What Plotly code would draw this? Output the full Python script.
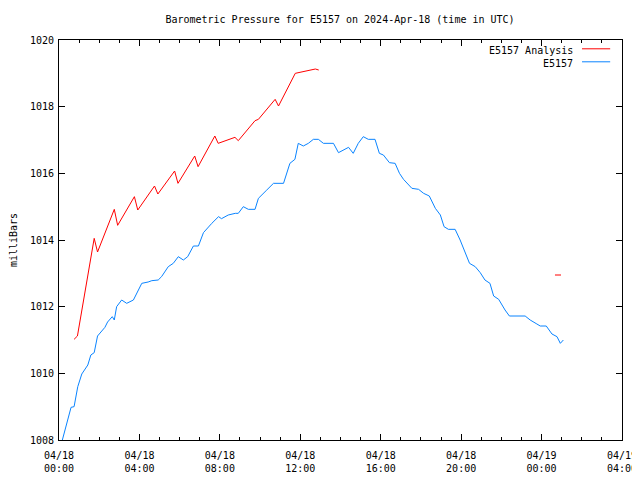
import plotly.graph_objects as go

# --- data ---
analysis_time = ["2024-04-18 00:45", "2024-04-18 00:55", "2024-04-18 01:45", "2024-04-18 01:55",
                 "2024-04-18 02:45", "2024-04-18 02:55", "2024-04-18 03:45", "2024-04-18 03:55",
                 "2024-04-18 04:45", "2024-04-18 04:55", "2024-04-18 05:45", "2024-04-18 05:55",
                 "2024-04-18 06:45", "2024-04-18 06:55", "2024-04-18 07:45", "2024-04-18 07:55",
                 "2024-04-18 08:45", "2024-04-18 08:55", "2024-04-18 09:45", "2024-04-18 09:55",
                 "2024-04-18 10:45", "2024-04-18 10:55", "2024-04-18 11:45", "2024-04-18 11:55",
                 "2024-04-18 12:15", "2024-04-18 12:30", "2024-04-18 12:45", "2024-04-18 12:55",
                 "2024-04-18 18:00",
                 "2024-04-19 00:40", "2024-04-19 00:58"]
analysis_mb = [1011.02, 1011.12, 1014.05, 1013.64,
               1014.92, 1014.44, 1015.30, 1014.90,
               1015.62, 1015.38, 1016.07, 1015.70,
               1016.52, 1016.20, 1017.12, 1016.90,
               1017.08, 1016.98, 1017.58, 1017.62,
               1018.22, 1018.02, 1019.00, 1019.02,
               1019.06, 1019.10, 1019.13, 1019.10,
               None,
               1012.95, 1012.95]

obs_time = ["2024-04-18 00:10", "2024-04-18 00:36", "2024-04-18 00:45", "2024-04-18 00:56",
            "2024-04-18 01:08", "2024-04-18 01:17", "2024-04-18 01:26", "2024-04-18 01:35",
            "2024-04-18 01:45", "2024-04-18 01:55", "2024-04-18 02:07", "2024-04-18 02:17",
            "2024-04-18 02:25", "2024-04-18 02:39", "2024-04-18 02:45", "2024-04-18 02:52",
            "2024-04-18 03:07", "2024-04-18 03:22", "2024-04-18 03:42", "2024-04-18 04:07",
            "2024-04-18 04:26", "2024-04-18 04:37", "2024-04-18 04:56", "2024-04-18 05:06",
            "2024-04-18 05:26", "2024-04-18 05:41", "2024-04-18 05:56", "2024-04-18 06:11",
            "2024-04-18 06:24", "2024-04-18 06:41", "2024-04-18 06:56", "2024-04-18 07:11",
            "2024-04-18 07:36", "2024-04-18 07:56", "2024-04-18 08:05", "2024-04-18 08:25",
            "2024-04-18 08:46", "2024-04-18 08:55", "2024-04-18 09:10", "2024-04-18 09:25",
            "2024-04-18 09:45", "2024-04-18 09:55", "2024-04-18 10:20", "2024-04-18 10:40",
            "2024-04-18 11:10", "2024-04-18 11:20", "2024-04-18 11:29", "2024-04-18 11:44",
            "2024-04-18 11:54", "2024-04-18 12:09", "2024-04-18 12:24", "2024-04-18 12:39",
            "2024-04-18 12:54", "2024-04-18 13:09", "2024-04-18 13:39", "2024-04-18 13:54",
            "2024-04-18 14:09", "2024-04-18 14:24", "2024-04-18 14:38", "2024-04-18 14:53",
            "2024-04-18 15:08", "2024-04-18 15:23", "2024-04-18 15:43", "2024-04-18 15:56",
            "2024-04-18 16:08", "2024-04-18 16:26", "2024-04-18 16:43", "2024-04-18 16:56",
            "2024-04-18 17:08", "2024-04-18 17:23", "2024-04-18 17:33", "2024-04-18 17:53",
            "2024-04-18 18:08", "2024-04-18 18:25", "2024-04-18 18:43", "2024-04-18 18:58",
            "2024-04-18 19:09", "2024-04-18 19:22", "2024-04-18 19:42", "2024-04-18 19:57",
            "2024-04-18 20:12", "2024-04-18 20:25", "2024-04-18 20:42", "2024-04-18 20:57",
            "2024-04-18 21:11", "2024-04-18 21:26", "2024-04-18 21:37", "2024-04-18 21:52",
            "2024-04-18 22:11", "2024-04-18 22:24", "2024-04-18 23:11", "2024-04-18 23:26",
            "2024-04-18 23:46", "2024-04-18 23:56", "2024-04-19 00:14", "2024-04-19 00:31",
            "2024-04-19 00:46", "2024-04-19 00:56", "2024-04-19 01:05"]
obs_mb = [1008.0, 1008.98, 1009.0, 1009.6,
          1009.98, 1010.1, 1010.25, 1010.55,
          1010.62, 1011.12, 1011.25, 1011.38,
          1011.54, 1011.7, 1011.6, 1012.0,
          1012.2, 1012.1, 1012.2, 1012.7,
          1012.74, 1012.78, 1012.8, 1012.9,
          1013.2, 1013.3, 1013.5, 1013.4,
          1013.5, 1013.82, 1013.82, 1014.22,
          1014.5, 1014.7, 1014.64, 1014.75,
          1014.8, 1014.8, 1015.0, 1014.92,
          1014.92, 1015.25, 1015.5, 1015.7,
          1015.7, 1016.05, 1016.3, 1016.42,
          1016.9, 1016.82, 1016.9, 1017.02,
          1017.02, 1016.9, 1016.9, 1016.62,
          1016.7, 1016.78, 1016.6, 1016.9,
          1017.1, 1017.02, 1017.02, 1016.6,
          1016.55, 1016.32, 1016.3, 1016.0,
          1015.82, 1015.65, 1015.55, 1015.52,
          1015.4, 1015.32, 1014.95, 1014.75,
          1014.4, 1014.32, 1014.32, 1014.0,
          1013.65, 1013.3, 1013.2, 1013.02,
          1012.8, 1012.7, 1012.32, 1012.22,
          1011.9, 1011.72, 1011.72, 1011.6,
          1011.48, 1011.42, 1011.42, 1011.18,
          1011.1, 1010.9, 1011.0]

x_tick_vals = ["2024-04-18 00:00", "2024-04-18 04:00", "2024-04-18 08:00", "2024-04-18 12:00",
               "2024-04-18 16:00", "2024-04-18 20:00", "2024-04-19 00:00", "2024-04-19 04:00"]
x_tick_text = ["04/18<br>00:00", "04/18<br>04:00", "04/18<br>08:00", "04/18<br>12:00",
               "04/18<br>16:00", "04/18<br>20:00", "04/19<br>00:00", "04/19<br>04:00"]
y_tick_vals = [1008, 1010, 1012, 1014, 1016, 1018, 1020]

RED = "#ff0000"
BLUE = "#0a84ff"
FONT = "DejaVu Sans Mono"

# page body has an 8px margin; size the figure so the plot area lands where the reference has it
W, H = 640, 472

fig = go.Figure()
fig.add_trace(go.Scatter(x=analysis_time, y=analysis_mb, mode="lines", name="E5157 Analysis",
                         line=dict(color=RED, width=1), connectgaps=False, showlegend=False))
fig.add_trace(go.Scatter(x=obs_time, y=obs_mb, mode="lines", name="E5157",
                         line=dict(color=BLUE, width=1), showlegend=False))

# legend in gnuplot style (text left of sample)
legend_items = [("E5157 Analysis", RED, 0.975), ("E5157", BLUE, 0.9425)]
for label, col, yp in legend_items:
    fig.add_annotation(x=0.916, y=yp, xref="paper", yref="paper", text=label, showarrow=False,
                       xanchor="right", yanchor="middle", font=dict(family=FONT, size=10, color="black"))
    fig.add_shape(type="line", xref="paper", yref="paper", x0=0.929, x1=0.979, y0=yp + 0.003, y1=yp + 0.003,
                  line=dict(color=col, width=1))

fig.update_layout(
    width=W, height=H,
    margin=dict(l=51, r=W - 614, t=32, b=40, autoexpand=False),
    paper_bgcolor="white", plot_bgcolor="white",
    font=dict(family=FONT, size=10, color="black"),
    title=dict(text="Barometric Pressure for E5157 on 2024-Apr-18 (time in UTC)",
               x=332 / W, xanchor="center", y=1 - 11 / H, yanchor="middle",
               font=dict(family=FONT, size=10, color="black")),
    xaxis=dict(range=["2024-04-18 00:00", "2024-04-19 04:00"], tickvals=x_tick_vals, ticktext=x_tick_text,
               showgrid=False, zeroline=False, showline=True, linecolor="black", linewidth=1,
               mirror="allticks", ticks="inside", ticklen=6, tickcolor="black", automargin=False,
               ticklabelstandoff=6, ticklabeloverflow="allow",
               minor=dict(dtick=3600000, ticks="inside", ticklen=3, tickcolor="black", showgrid=False),
               tickfont=dict(family=FONT, size=10)),
    yaxis=dict(range=[1008, 1020], tickvals=y_tick_vals, showgrid=False, zeroline=False,
               showline=True, linecolor="black", linewidth=1, mirror="allticks", automargin=False,
               ticks="inside", ticklen=6, tickcolor="black", ticklabelstandoff=2,
               title=dict(text="milliBars", font=dict(family=FONT, size=10), standoff=16),
               tickfont=dict(family=FONT, size=10)),
)

fig.write_html("out.html")
